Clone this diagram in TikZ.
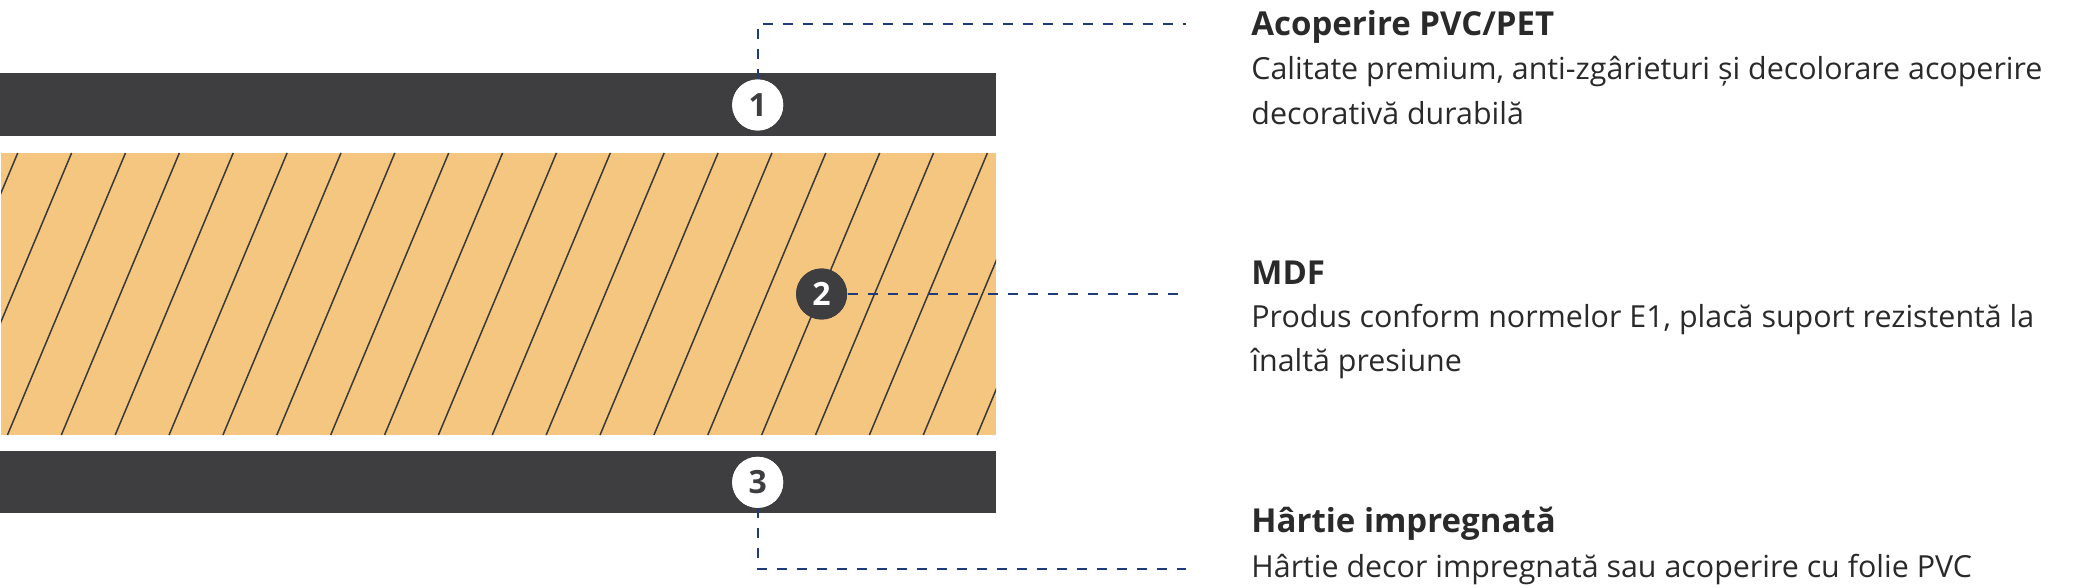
\documentclass[tikz,border=0pt]{standalone}
\usepackage{fontspec}
\setmainfont{Open Sans}
\definecolor{barcol}{HTML}{3E3E40}
\definecolor{mdf}{HTML}{F5C680}
\definecolor{hatchcol}{HTML}{3A3A3A}
\definecolor{navy}{HTML}{1F3B7A}
\definecolor{txt}{HTML}{2A2A2A}
\tikzset{
  num/.style={circle, minimum size=25.5pt, inner sep=0pt, font=\fontsize{16}{16}\selectfont\bfseries},
  lead/.style={draw=navy, line width=1pt, dash pattern=on 5pt off 5pt},
  hatchline/.style={draw=hatchcol, line width=0.75pt},
  ttl/.style={anchor=base west, inner sep=0pt, text=txt, font=\fontsize{16.5}{20}\selectfont\bfseries},
  body/.style={anchor=base west, inner sep=0pt, text=txt, font=\fontsize{15.2}{20}\selectfont},
}
\begin{document}
\begin{tikzpicture}[x=0.5pt,y=-0.5pt]
\useasboundingbox (0,0) rectangle (2078,588);
% bars
\fill[barcol] (0,73) rectangle (996,136);
\fill[barcol] (0,451) rectangle (996,513);
% MDF core
\begin{scope}
  \clip (1,153) rectangle (996,435);
  \fill[mdf] (1,153) rectangle (996,435);
  \foreach \k in {-1,0,...,19}
    \draw[hatchline] ({71.6+53.87*\k},153) -- ({71.6+53.87*\k-118},435);
\end{scope}
% markers
\coordinate (e1) at (1186,24);
\coordinate (e2) at (1186,294);
\coordinate (e3) at (1186,569);
\node[num, fill=white, text=barcol] (n1) at (757.7,105) {};
\node[num, fill=barcol, text=white] (n2) at (821.6,294) {};
\node[num, fill=white, text=barcol] (n3) at (757.7,482.3) {};
\draw[lead] (n1.north) |- (e1);
\draw[lead] (n2.east) -- (e2);
\draw[lead] (n3.south) |- (e3);
\node[num, fill=white, text=barcol] (m1) at (n1) {1};
\node[num, fill=barcol, text=white] (m2) at (n2) {2};
\node[num, fill=white, text=barcol] (m3) at (n3) {3};
% texts
\node[ttl] (t1) at (1251,35.7) {Acoperire PVC/PET};
\node[body] (b1a) at (1251,80) {Calitate premium, anti-zgârieturi și decolorare acoperire};
\node[body] (b1b) at (1251,125) {decorativă durabilă};
\node[ttl] (t2) at (1251,284.3) {MDF};
\node[body] (b2a) at (1251,327.3) {Produs conform normelor E1, placă suport rezistentă la};
\node[body] (b2b) at (1251,371.7) {înaltă presiune};
\node[ttl] (t3) at (1251,532.7) {Hârtie impregnată};
\node[body] (b3a) at (1251,577) {Hârtie decor impregnată sau acoperire cu folie PVC};
\end{tikzpicture}
\end{document}
